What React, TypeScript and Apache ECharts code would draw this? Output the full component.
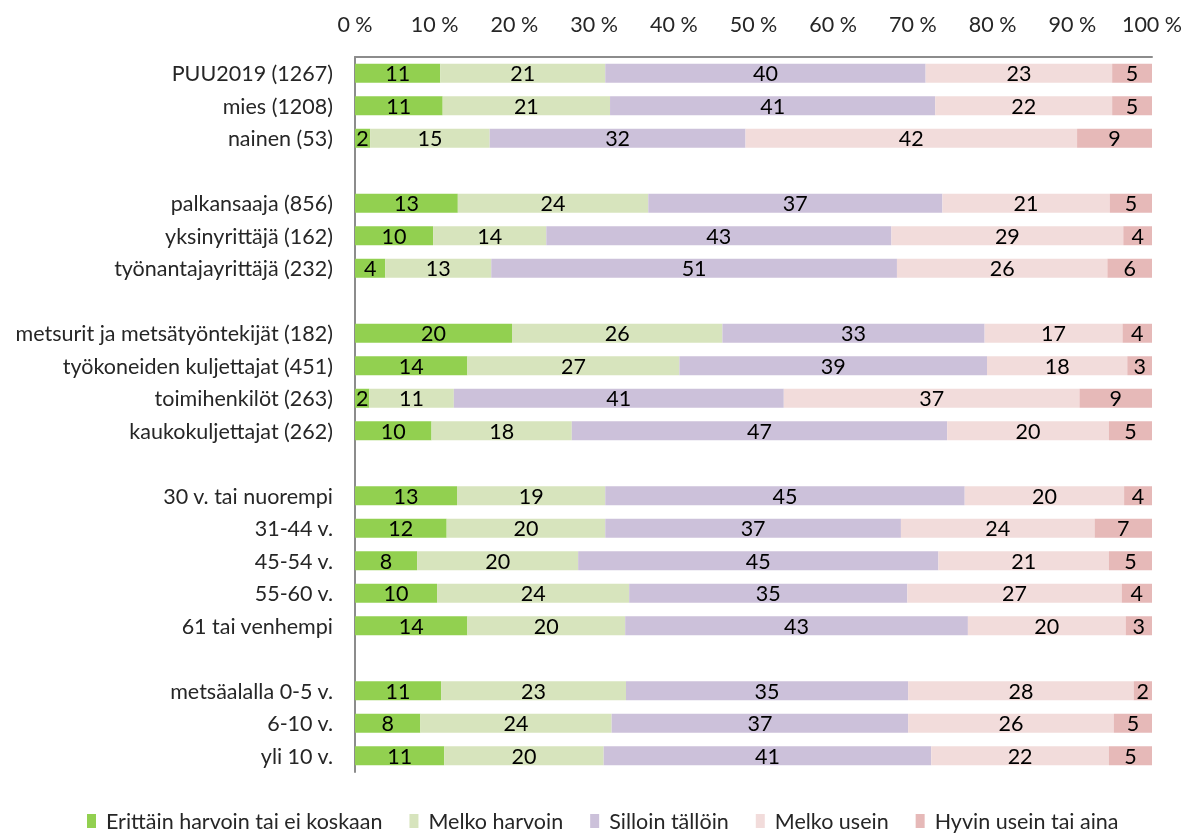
import React, { useEffect, useRef } from "react";
import * as echarts from "echarts";

const categories = [
  "PUU2019 (1267)",
  "mies (1208)",
  "nainen (53)",
  "",
  "palkansaaja (856)",
  "yksinyrittäjä (162)",
  "työnantajayrittäjä (232)",
  " ",
  "metsurit ja metsätyöntekijät (182)",
  "työkoneiden kuljettajat (451)",
  "toimihenkilöt (263)",
  "kaukokuljettajat (262)",
  "  ",
  "30 v. tai nuorempi",
  "31-44 v.",
  "45-54 v.",
  "55-60 v.",
  "61 tai venhempi",
  "   ",
  "metsäalalla 0-5 v.",
  "6-10 v.",
  "yli 10 v.",
];

const seriesNames = [
  "Erittäin harvoin tai ei koskaan",
  "Melko harvoin",
  "Silloin tällöin",
  "Melko usein",
  "Hyvin usein tai aina",
];

// "-" marks the empty spacer rows
const erittainHarvoin = [10.7, 11.0, 1.9, "-", 12.9, 9.8, 3.8, "-", 19.7, 14.1, 1.8, 9.6, "-", 12.8, 11.5, 7.8, 10.3, 14.1, "-", 10.8, 8.2, 11.2];
const melkoHarvoin = [20.7, 21.0, 15.0, "-", 23.9, 14.2, 13.3, "-", 26.4, 26.6, 10.6, 17.6, "-", 18.6, 19.9, 20.2, 24.1, 19.8, "-", 23.2, 24.0, 20.0];
const sillointallloin = [40.2, 40.8, 32.1, "-", 36.9, 43.3, 50.9, "-", 32.9, 38.6, 41.4, 47.1, "-", 45.1, 37.1, 45.2, 34.9, 43.0, "-", 35.4, 37.2, 41.1];
const melkoUsein = [23.4, 22.2, 41.6, "-", 21.0, 29.1, 26.4, "-", 17.3, 17.6, 37.1, 20.3, "-", 20.0, 24.3, 21.4, 26.9, 19.8, "-", 28.3, 25.8, 22.3];
const hyvinUsein = [5.0, 5.0, 9.4, "-", 5.3, 3.6, 5.6, "-", 3.7, 3.1, 9.1, 5.4, "-", 3.5, 7.2, 5.4, 3.8, 3.3, "-", 2.3, 4.8, 5.4];

const colors = ["#92D050", "#D7E4BD", "#CCC1DA", "#F2DCDB", "#E6B9B8"];
const axisTicks = [0, 10, 20, 30, 40, 50, 60, 70, 80, 90, 100];

const FONT = "Lato";
const FS = 21.5;

export default function App() {
  const ref = useRef<HTMLDivElement>(null);
  useEffect(() => {
    if (!ref.current) return;
    const chart = echarts.init(ref.current, null, { renderer: "svg" });
    const dataSets = [erittainHarvoin, melkoHarvoin, sillointallloin, melkoUsein, hyvinUsein];
    chart.setOption({
      animation: false,
      textStyle: { fontFamily: FONT },
      grid: {
        left: 355,
        right: 37,
        top: 57,
        bottom: 66,
        containLabel: false,
        outerBoundsMode: "none",
      },
      xAxis: {
        type: "value",
        position: "top",
        min: axisTicks[0],
        max: axisTicks[axisTicks.length - 1],
        interval: 10,
        axisLine: { show: true, lineStyle: { color: "#8C8C8C", width: 2 } },
        axisTick: { show: false },
        splitLine: { show: false },
        axisLabel: {
          formatter: "{value} %",
          fontSize: FS,
          color: "#262626",
          fontFamily: FONT,
          margin: 22,
        },
      },
      yAxis: {
        type: "category",
        inverse: true,
        data: categories,
        axisLine: { show: true, onZero: false, lineStyle: { color: "#8C8C8C", width: 2 } },
        axisTick: { show: false },
        axisLabel: {
          fontSize: FS,
          color: "#262626",
          fontFamily: FONT,
          margin: 22,
        },
      },
      legend: {
        bottom: 1,
        left: 82,
        itemWidth: 9,
        itemHeight: 14,
        itemGap: 27,
        icon: "rect",
        textStyle: {
          fontSize: FS,
          color: "#262626",
          fontFamily: FONT,
          padding: [0, 0, 0, 5],
        },
        data: seriesNames,
      },
      series: seriesNames.map((name, i) => ({
        name,
        type: "bar",
        stack: "total",
        barWidth: 19,
        itemStyle: { color: colors[i] },
        label: {
          show: true,
          position: "inside",
          color: "#000",
          fontSize: FS,
          fontFamily: FONT,
          formatter: (p: any) => String(Math.round(Number(p.value))),
        },
        data: dataSets[i],
      })),
    });
    return () => chart.dispose();
  }, []);
  return (
    <div
      ref={ref}
      style={{ position: "fixed", left: 0, top: 0, width: 1189, height: 838 }}
    />
  );
}
